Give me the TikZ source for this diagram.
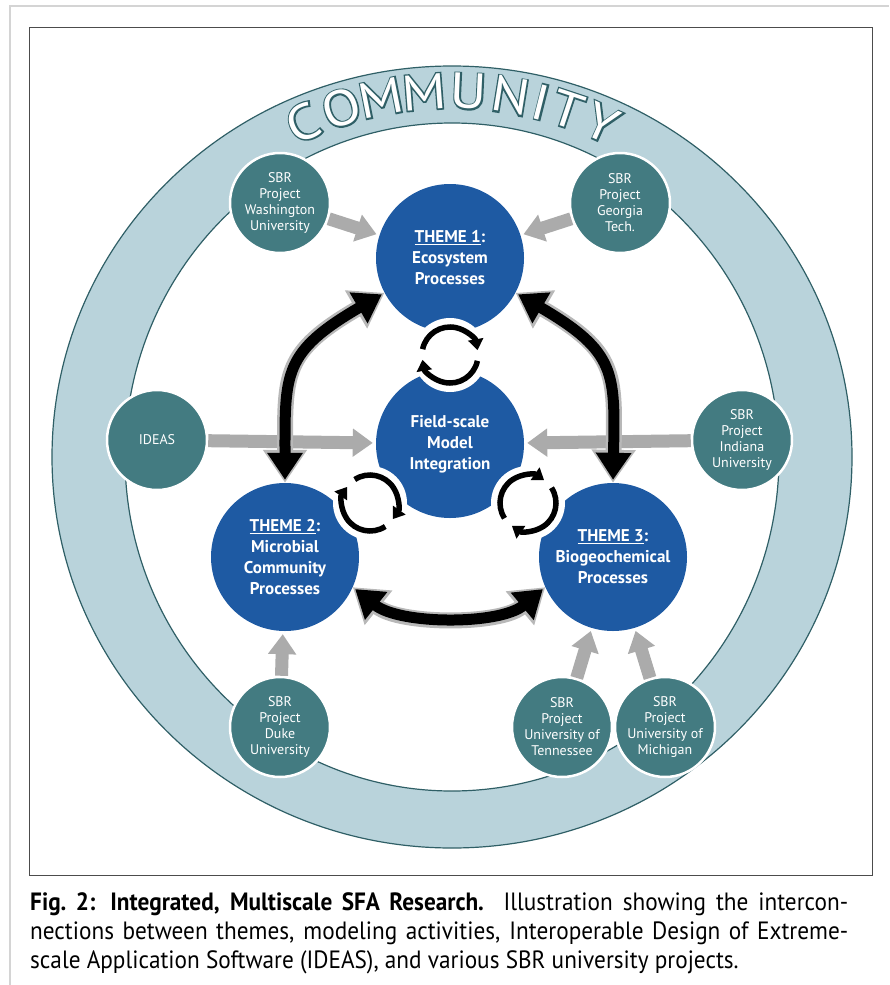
\documentclass[tikz,border=0pt]{standalone}
\usepackage{fontspec}
\setmainfont{PT Sans}
\newfontfamily\capfont[FakeStretch=0.93]{PT Sans}
\newfontfamily\commfont[FakeStretch=1.12]{PT Sans}
\newfontfamily\commedgefont[FakeStretch=1.12,FakeBold=6]{PT Sans}
\usetikzlibrary{arrows.meta}

\definecolor{ringfill}{HTML}{B9D3DB}
\definecolor{ringedge}{HTML}{2F5F66}
\definecolor{sbrteal}{HTML}{437B81}
\definecolor{themeblue}{HTML}{1E5AA3}
\definecolor{feedgray}{HTML}{ABABAB}
\definecolor{glowgray}{HTML}{B8B8B8}
\definecolor{framegray}{HTML}{D4D4D4}

\tikzset{
  sbr/.style={circle, fill=sbrteal, draw=white, line width=2.5pt,
    minimum size=100pt, inner sep=0pt, text=white, align=center,
    font=\fontsize{14}{16}\selectfont},
  theme/.style={circle, fill=themeblue, minimum size=148pt, inner sep=0pt,
    text=white, align=center, font=\bfseries\fontsize{17}{21}\selectfont},
  feed/.style={draw=feedgray, line width=13pt,
    -{Triangle[width=27pt,length=20pt]}, shorten >=3pt},
  linkglow/.style={draw=glowgray, line width=16pt,
    {Triangle[width=42pt,length=33pt]}-{Triangle[width=42pt,length=33pt]}},
  link/.style={draw=black, line width=11pt,
    {Triangle[width=34pt,length=27pt]}-{Triangle[width=34pt,length=27pt]},
    shorten >=3pt, shorten <=3pt},
  pics/cycle/.style={code={
    \fill[white] (0,0) circle[radius=37];
    \draw[line width=5.5pt, -{Triangle[width=15pt,length=11pt]}]
      (-168:28) arc[start angle=-168, end angle=-10, radius=28];
    \draw[line width=5.5pt, -{Triangle[width=15pt,length=11pt]}]
      (12:28) arc[start angle=12, end angle=170, radius=28];
  }}
}

\begin{document}
\begin{tikzpicture}[x=1pt,y=-1pt]
\useasboundingbox (0,0) rectangle (889,985);

% frames
\draw[framegray, line width=2.5pt] (10,985) -- (10,6) -- (889,6);
\draw[black!70, line width=1pt] (29,27) rectangle (872,875);

% community ring
\fill[ringfill, even odd rule] (452,457) ellipse[x radius=400, y radius=391]
  (452,457) ellipse[x radius=327, y radius=334];
\draw[ringedge, line width=1.2pt] (452,457) ellipse[x radius=400, y radius=391];
\draw[ringedge, line width=1.2pt] (452,457) ellipse[x radius=327, y radius=334];

\foreach \ch/\a [count=\i] in {C/-24.0, O/-17.6, M/-11.2, M/-4.4, U/2.6,
                               N/9.2, I/14.1, T/18.4, Y/24.2}{
  \node[rotate={0-(\a)}, text=ringedge, font=\commedgefont\fontsize{50}{50}\selectfont]
    (edge\i) at ({452+366*sin(\a)}, {457-366*cos(\a)}) {\ch};
  \node[rotate={0-(\a)}, text=white, font=\commfont\fontsize{50}{50}\selectfont]
    (comm\i) at ({452+366*sin(\a)}, {457-366*cos(\a)}) {\ch};
}

% SBR projects
\node[sbr] (wash)    at (280,203) {SBR\\Project\\Washington\\University};
\node[sbr] (georgia) at (620,203) {SBR\\Project\\Georgia\\Tech.};
\node[sbr] (ideas)   at (157,440) {IDEAS};
\node[sbr] (indiana) at (742,440) {SBR\\Project\\Indiana\\University};
\node[sbr] (duke)    at (280,727) {SBR\\Project\\Duke\\University};
\node[sbr] (tenn)    at (562,727) {SBR\\Project\\University of\\Tennessee};
\node[sbr] (mich)    at (665,727) {SBR\\Project\\University of\\Michigan};

% themes
\node[theme] (t1)    at (450,258) {\underline{THEME 1}:\\Ecosystem\\Processes};
\node[theme] (field) at (450,444) {Field-scale\\Model\\Integration};
\node[theme] (t2)    at (285,557) {\underline{THEME 2}:\\Microbial\\Community\\Processes};
\node[theme] (t3)    at (613,557) {\underline{THEME 3}:\\Biogeochemical\\Processes};

% inputs
\draw[feed] (wash) -- (t1);
\draw[feed] (georgia) -- (t1);
\draw[feed] (ideas) -- (field);
\draw[feed] (indiana) -- (field);
\draw[feed] (duke) -- (t2);
\draw[feed] (tenn) -- (t3);
\draw[feed] (mich) -- (t3);

% theme links
\draw[linkglow] (t2.north) .. controls (285,373) and (283,352) .. (t1.208);
\draw[link]     (t2.north) .. controls (285,373) and (283,352) .. (t1.208);
\draw[linkglow] (t3.north) .. controls (615,373) and (617,352) .. (t1.332);
\draw[link]     (t3.north) .. controls (615,373) and (617,352) .. (t1.332);
\draw[linkglow] (t2.336) .. controls (400,625) and (500,625) .. (t3.204);
\draw[link]     (t2.336) .. controls (400,625) and (500,625) .. (t3.204);

\pic (cyc1) at (450,355) {cycle};
\pic[rotate=-45] (cyc2) at (370,503) {cycle};
\pic[rotate=45] (cyc3) at (528,503) {cycle};

% caption
\node[anchor=north west, text width=818pt, align=justify, inner sep=0pt,
  font=\capfont\fontsize{25}{29}\selectfont] (caption) at (30,892)
  {\hyphenpenalty=10000 {\bfseries Fig.~2: Integrated, Multiscale SFA Research.}
   Illustration showing the intercon-\linebreak nections between themes, modeling
   activities, Interoperable Design of Extreme-\linebreak scale Application Software
   (IDEAS), and various SBR university projects.};
\end{tikzpicture}
\end{document}
